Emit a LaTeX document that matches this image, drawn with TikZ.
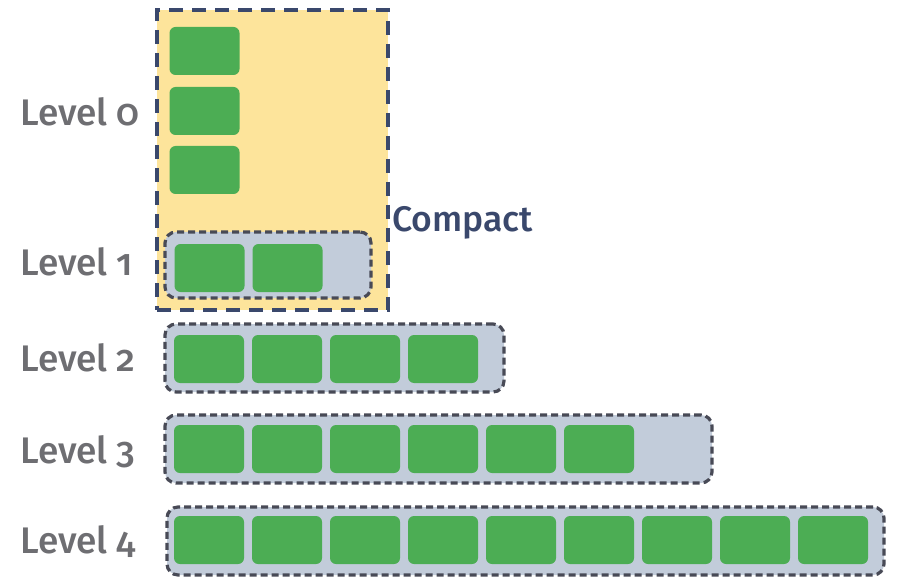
\documentclass[tikz,border=0pt]{standalone}
\usepackage{fontspec}
\setmainfont{Fira Sans}[Numbers=OldStyle,UprightFont=* Medium]
\definecolor{cellgreen}{RGB}{76,173,84}
\definecolor{groupfill}{RGB}{194,204,218}
\definecolor{groupline}{RGB}{72,74,86}
\definecolor{compfill}{RGB}{253,228,155}
\definecolor{compline}{RGB}{58,72,108}
\definecolor{labgray}{RGB}{110,110,114}
\tikzset{
  cell/.style={fill=cellgreen, rounded corners=6pt, minimum width=70pt, minimum height=48pt, inner sep=0pt, draw=none},
  group/.style={fill=groupfill, draw=groupline, line width=3.2pt, dash pattern=on 7pt off 4pt, rounded corners=11pt, inner sep=0pt},
  compbox/.style={fill=compfill, draw=compline, line width=3.8pt, dash pattern=on 14pt off 9pt, inner sep=0pt},
  lab/.style={text=labgray, font=\fontsize{37}{42}\selectfont, anchor=base west, inner sep=0pt},
}
\begin{document}
\begin{tikzpicture}[x=1pt,y=-1pt]
\useasboundingbox (0,0) rectangle (901,585);
% compaction box
\node[compbox, minimum width=231pt, minimum height=300pt] (comp) at (272.5,160) {};
\node[text=compline, font=\fontsize{35.5}{40}\selectfont, anchor=base west, inner sep=0pt] (ctext) at (392,232) {Compact};
% level 0 cells
\node[cell] (c00) at (204.5,51) {};
\node[cell] (c01) at (204.5,111) {};
\node[cell] (c02) at (204.5,170) {};
% groups
\node[group, minimum width=206pt, minimum height=66pt] (g1) at (268,265) {};
\node[group, minimum width=339pt, minimum height=68pt] (g2) at (334.5,358) {};
\node[group, minimum width=547pt, minimum height=68pt] (g3) at (438.5,449) {};
\node[group, minimum width=717pt, minimum height=68pt] (g4) at (525.5,541) {};
% cells
\foreach \i in {0,1} { \node[cell] (c1\i) at (209.5+78*\i,268) {}; }
\foreach \i in {0,...,3} { \node[cell] (c2\i) at (209+78*\i,359) {}; }
\foreach \i in {0,...,5} { \node[cell] (c3\i) at (209+78*\i,449) {}; }
\foreach \i in {0,...,8} { \node[cell] (c4\i) at (209+78*\i,540) {}; }
% labels
\node[lab] (l0) at (20,126) {Level 0};
\node[lab] (l1) at (20,275) {Level 1};
\node[lab] (l2) at (20,371) {Level 2};
\node[lab] (l3) at (20,463) {Level 3};
\node[lab] (l4) at (20,553) {Level 4};
\end{tikzpicture}
\end{document}
